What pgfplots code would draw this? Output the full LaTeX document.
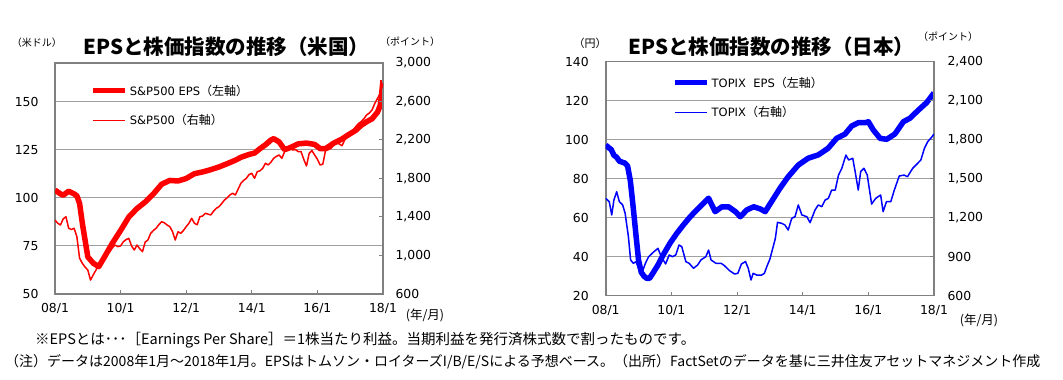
\documentclass[border=0pt]{standalone}
\usepackage{pgfplots}
\pgfplotsset{compat=1.18}
\usepackage{fontspec}
\setmainfont{DejaVu Sans}
\newfontfamily\cjk{Noto Sans CJK JP}
\definecolor{frame}{RGB}{128,128,128}
\definecolor{gridc}{RGB}{160,160,160}
\definecolor{pred}{RGB}{255,0,0}
\definecolor{pblue}{RGB}{0,0,255}
\pgfplotsset{
  common/.style={
    scale only axis, xmin=0, xmax=120,
    /pgf/number format/assume math mode=true,
    /pgf/number format/1000 sep={,},
    scaled ticks=false,
    tick label style={font=\fontsize{12.4}{14}\selectfont, text=black},
    axis line style={draw=frame, line width=1.6pt},
    tick style={draw=frame, line width=1pt},
    major tick length=4pt,
    tick align=inside,
  },
  leftax/.style={
    common,
    xtick={0,24,48,72,96,120}, xticklabels={08/1,10/1,12/1,14/1,16/1,18/1},
    xtick pos=left, ytick pos=left,
    ytick style={draw=none},
    ymajorgrids, grid style={draw=gridc, line width=1pt},
    xticklabel style={yshift=-6pt},
  },
  rightax/.style={
    common,
    axis y line*=right, axis x line=none,
  },
  legstyle/.style={
    legend style={draw=none, fill=none, inner sep=0pt, anchor=north west,
      row sep=14pt, font=\fontsize{11.5}{13}\selectfont, cells={anchor=west}},
    legend image code/.code={\draw[##1] (0pt,0pt) -- (32pt,0pt);},
  },
}
\pgfplotstableread{
m v
0 104
2 102
3 101.3
5 103.4
7 102
8 101
9 97
10 86.8
11 78
12 69.3
14 66
16 64.2
18 69
21 76.4
24 83
27 90
30 94.4
33 97.8
36 102
39 107
42 109
45 108.7
48 110
51 112.5
54 113.4
57 114.6
60 116
63 117.7
66 119.5
68 121
71 122.5
73 123.2
75 125.5
77 127.5
79 130
80 130.7
82 129
84 125
86 126
89 128
92 128.4
95 127.7
97 125.5
99 125.5
102 128.4
105 130.5
107 132.4
110 135
112 137.6
114 139.5
116 141
118 144.5
119 148
119.5 154
120 161
}\speps
\pgfplotstableread{
m p
0 1369
1 1335
2 1317
3 1380
4 1403
5 1283
6 1270
7 1283
8 1195
9 971
10 919
11 880
12 849
13 745
14 800
15 849
16 919
17 950
18 988
19 1010
20 1040
21 1080
22 1109
23 1092
24 1100
25 1143
26 1165
27 1178
28 1100
29 1057
30 1109
31 1070
32 1040
33 1140
34 1161
35 1230
36 1260
37 1283
38 1320
39 1351
40 1340
41 1317
42 1300
43 1247
44 1161
45 1247
46 1230
47 1260
48 1300
49 1335
50 1386
51 1335
52 1320
53 1403
54 1410
55 1438
56 1430
57 1421
58 1460
59 1490
60 1507
61 1540
62 1577
63 1600
64 1629
65 1646
66 1629
67 1690
68 1750
69 1780
70 1802
71 1840
72 1854
73 1802
74 1871
75 1880
76 1906
77 1958
78 1941
79 1970
80 2010
81 2030
82 2044
83 2010
84 2079
85 2100
86 2114
87 2096
88 2100
89 2079
90 2080
91 2000
92 1930
93 2062
94 2090
95 2044
96 2000
97 1940
98 1950
99 2096
100 2100
101 2114
102 2150
103 2166
104 2160
105 2140
106 2200
107 2262
108 2286
109 2300
110 2338
111 2370
112 2390
113 2420
114 2460
115 2480
116 2512
117 2580
118 2633
119 2685
120 2789
}\spx
\pgfplotstableread{
m v
0 97.3
1 96
2 95
3 92
4 91
5 89
7 88
8 86.5
9 79
10 66
11 52
12 38.3
13 32
14 30
15 28.9
16 28.9
17 31
19 35.5
21 40.9
23.5 46.9
26 52
28.4 56.3
30.9 60.5
33.3 64
35.7 67.4
37.6 70
38.8 66.5
40 63.1
42.5 65.6
44.9 65.6
47.4 63.1
49.2 60.5
51.6 64
54.1 65.6
56.5 64.5
58.3 63.1
60.5 68
63.7 75.1
66.7 81
70.4 87
74 90.5
77.7 92.2
81.3 95.6
84.4 100.7
87.5 102.9
89.9 107
92.3 108.7
94.8 108.7
96 109.2
97.8 105
100.3 100.7
102.7 100.2
105.7 102.9
108.8 109.2
111.2 111
114.3 115.2
117.3 119
120 124
}\tpeps
\pgfplotstableread{
m p
0 1349
1.3 1323
2.2 1221
3 1336
4 1400
5 1323
6.2 1298
7.1 1234
8.3 1054
9.1 875
10.1 849
11.1 862
12 811
13.2 772
14.5 849
15.7 900
17.6 938
19.1 964
20.3 900
21.9 844
23.2 913
24.4 900
25.6 913
26.8 990
27.8 977
29.3 862
30.5 849
32.1 811
33.6 836
34.8 875
36.6 900
37.6 951
38.5 875
40.3 849
42.2 849
43.4 831
45.3 792
47.1 767
48.3 772
49.6 844
51.1 862
52.1 811
53.1 721
53.9 772
55.2 759
57 759
58 772
59 830
60 880
61 960
62 1040
62.8 1164
64.3 1157
65.5 1144
66.7 1105
68 1195
69.2 1208
70.4 1298
71.7 1221
73.5 1208
74.7 1162
76.5 1259
77.7 1298
79 1285
80.2 1336
81.4 1349
82.6 1413
83.9 1413
85.1 1528
86.3 1580
87.8 1682
88.8 1644
90.3 1657
91.3 1540
92.3 1413
93.2 1555
94.4 1580
95.6 1528
97.2 1305
98.7 1349
100.5 1375
101.4 1246
102.6 1323
104.2 1323
105.5 1413
107.3 1521
109.1 1528
110.3 1515
112.2 1580
114 1618
115.2 1644
116.5 1734
117.7 1785
119.3 1823
120 1844
}\tpx
\begin{document}
\begin{tikzpicture}[x=1pt,y=1pt]
\useasboundingbox (0,0) rectangle (1063,380);
% ---------- US chart ----------
\begin{axis}[leftax, at={(55pt,86pt)}, anchor=south west, width=328pt, height=231pt,
  ymin=50, ymax=170, ytick={50,75,100,125,150},
  yticklabel style={xshift=-13pt}]
\addplot[pred, line width=5.5pt, line join=round] table[x=m,y=v]{\speps};
\end{axis}
\begin{axis}[rightax, legstyle, at={(55pt,86pt)}, anchor=south west, width=328pt, height=231pt,
  ymin=600, ymax=3000, ytick={600,1000,...,3000},
  yticklabel style={xshift=9pt},
  legend style={at={(0.107,0.915)}}]
\addlegendimage{pred, line width=5.5pt}
\addlegendentry{S\&P500 EPS{\cjk\fontsize{12}{13}\selectfont （左軸）}}
\addplot[pred, line width=1.5pt, line join=round] table[x=m,y=p]{\spx};
\addlegendentry{S\&P500{\cjk\fontsize{12}{13}\selectfont （右軸）}}
\end{axis}
% ---------- Japan chart ----------
\begin{axis}[leftax, at={(605.7pt,84.3pt)}, anchor=south west, width=328.3pt, height=234pt,
  ymin=20, ymax=140, ytick={20,40,...,140},
  yticklabel style={xshift=-13.5pt}]
\addplot[pblue, line width=5.5pt, line join=round] table[x=m,y=v]{\tpeps};
\end{axis}
\begin{axis}[rightax, legstyle, at={(605.7pt,84.3pt)}, anchor=south west, width=328.3pt, height=234pt,
  ymin=600, ymax=2400, ytick={600,900,...,2400},
  yticklabel style={xshift=10pt},
  legend style={at={(0.202,0.945)}}]
\addlegendimage{pblue, line width=5.5pt}
\addlegendentry{TOPIX\ \ EPS{\cjk\fontsize{12}{13}\selectfont （左軸）}}
\addplot[pblue, line width=1.5pt, line join=round] table[x=m,y=p]{\tpx};
\addlegendentry{TOPIX{\cjk\fontsize{12}{13}\selectfont （右軸）}}
\end{axis}
% ---------- texts ----------
\node[font=\cjk\bfseries\fontsize{20.5}{23}\selectfont] at (226.5,333) {EPSと株価指数の推移（米国）};
\node[font=\cjk\bfseries\fontsize{20.5}{23}\selectfont] at (771.5,333) {EPSと株価指数の推移（日本）};
\node[font=\cjk\fontsize{10}{12}\selectfont] at (37,337) {（米ドル）};
\node[font=\cjk\fontsize{10}{12}\selectfont] at (410,338) {（ポイント）};
\node[font=\cjk\fontsize{11}{12}\selectfont] at (590,337) {（円）};
\node[font=\cjk\fontsize{10}{12}\selectfont] at (948,343) {（ポイント）};
\node[font=\cjk\fontsize{12.5}{14}\selectfont] at (425,65) {(年/月)};
\node[font=\cjk\fontsize{12.5}{14}\selectfont] at (979,60) {(年/月)};
\node[font=\cjk\fontsize{14.5}{16}\selectfont, anchor=west, inner sep=0pt] at (35,40)
  {※EPSとは･･･［Earnings Per Share］＝1株当たり利益。当期利益を発行済株式数で割ったものです。};
\node[font=\cjk\fontsize{14}{16}\selectfont, anchor=west, inner sep=0pt] at (5,18)
  {（注）データは2008年1月～2018年1月。EPSはトムソン・ロイターズI/B/E/Sによる予想ベース。（出所）FactSetのデータを基に三井住友アセットマネジメント作成};
\end{tikzpicture}
\end{document}
